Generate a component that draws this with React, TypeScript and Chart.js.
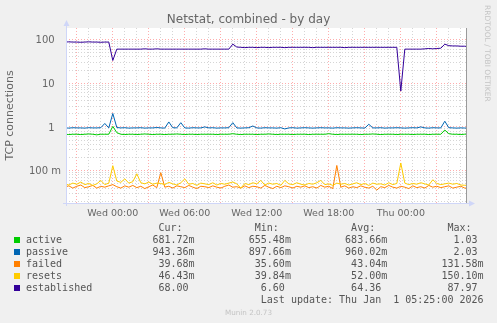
import { useEffect, useRef } from 'react';
import { Chart, registerables } from 'chart.js';
Chart.register(...registerables);

// ---------- data ----------
const TITLE = 'Netstat, combined - by day';
const Y_TITLE = 'TCP connections';
const SERIES_NAMES = ['active', 'passive', 'failed', 'resets', 'established'];
const COLORS = ['#00CC00', '#0066B3', '#FF8000', '#FFCC00', '#330099'];

// sample times in hours relative to Wed 00:00, one sample every 20 minutes
const START_HOUR = -4;
const STEP_HOURS = 1 / 3;

const ACTIVE = [
  0.68, 0.67, 0.68, 0.68, 0.67, 0.68, 0.69, 0.68, 0.66, 0.68, 0.68, 0.68,
  1.03, 0.74, 0.68, 0.67, 0.68, 0.68, 0.67, 0.68, 0.69, 0.68, 0.67, 0.68,
  0.68, 0.67, 0.68, 0.68, 0.69, 0.68, 0.67, 0.68, 0.68, 0.67, 0.68, 0.68,
  0.68, 0.68, 0.67, 0.68, 0.68, 0.68, 0.70, 0.68, 0.67, 0.68, 0.68, 0.68,
  0.67, 0.68, 0.68, 0.69, 0.68, 0.67, 0.68, 0.68, 0.68, 0.67, 0.68, 0.68,
  0.68, 0.67, 0.68, 0.68, 0.68, 0.68, 0.70, 0.68, 0.67, 0.68, 0.68, 0.68,
  0.68, 0.68, 0.67, 0.68, 0.68, 0.69, 0.68, 0.67, 0.68, 0.68, 0.68, 0.67,
  0.68, 0.68, 0.68, 0.67, 0.68, 0.68, 0.68, 0.67, 0.68, 0.68, 0.68, 0.85,
  0.70, 0.68, 0.68, 0.67, 0.682, 0.682,
];
const PASSIVE = [
  0.95, 0.94, 0.96, 0.95, 0.95, 0.94, 0.96, 0.95, 0.95, 0.96, 1.2, 0.95,
  2.03, 0.97, 0.95, 0.96, 0.94, 0.95, 0.95, 0.96, 0.94, 0.95, 0.95, 0.97,
  0.95, 0.94, 1.3, 0.96, 0.95, 1.25, 0.95, 0.94, 0.96, 0.95, 0.95, 1.0,
  0.95, 0.96, 0.94, 0.95, 0.95, 0.96, 1.25, 0.95, 0.94, 0.95, 0.96, 1.05,
  0.95, 0.94, 0.96, 0.95, 0.95, 0.94, 0.96, 0.90, 0.95, 0.96, 0.94, 0.95,
  0.96, 0.95, 0.94, 0.95, 0.96, 0.95, 0.95, 0.94, 0.96, 0.95, 0.95, 0.94,
  0.95, 0.96, 0.95, 0.94, 1.15, 0.95, 0.95, 0.96, 0.94, 0.95, 0.95, 0.96,
  0.95, 0.94, 0.95, 0.96, 0.95, 1.0, 0.95, 0.94, 0.96, 0.95, 0.95, 1.35,
  0.96, 0.95, 0.94, 0.95, 0.943, 0.943,
];
const FAILED = [
  0.042, 0.045, 0.040, 0.044, 0.047, 0.041, 0.043, 0.046, 0.040, 0.044, 0.042, 0.045,
  0.048, 0.043, 0.040, 0.045, 0.042, 0.046, 0.041, 0.044, 0.039, 0.043, 0.047, 0.041,
  0.090, 0.042, 0.044, 0.040, 0.045, 0.043, 0.041, 0.046, 0.042, 0.039, 0.044, 0.043,
  0.041, 0.045, 0.042, 0.040, 0.044, 0.047, 0.042, 0.043, 0.040, 0.045, 0.041, 0.044,
  0.043, 0.040, 0.046, 0.042, 0.039, 0.044, 0.041, 0.045, 0.043, 0.040, 0.044, 0.042,
  0.045, 0.041, 0.043, 0.040, 0.046, 0.042, 0.044, 0.039, 0.1316, 0.042, 0.045, 0.040,
  0.043, 0.041, 0.045, 0.042, 0.040, 0.044, 0.036, 0.043, 0.041, 0.046, 0.042, 0.040,
  0.044, 0.042, 0.039, 0.045, 0.041, 0.043, 0.040, 0.046, 0.042, 0.044, 0.041, 0.043,
  0.045, 0.040, 0.042, 0.044, 0.040, 0.0397,
];
const RESETS = [
  0.050, 0.047, 0.052, 0.049, 0.055, 0.048, 0.051, 0.046, 0.050, 0.060, 0.048, 0.052,
  0.130, 0.058, 0.054, 0.065, 0.052, 0.056, 0.085, 0.053, 0.050, 0.055, 0.049, 0.052,
  0.051, 0.048, 0.054, 0.050, 0.047, 0.053, 0.065, 0.049, 0.051, 0.046, 0.052, 0.050,
  0.048, 0.053, 0.047, 0.051, 0.049, 0.052, 0.055, 0.050, 0.040, 0.051, 0.048, 0.053,
  0.050, 0.060, 0.047, 0.052, 0.049, 0.051, 0.046, 0.060, 0.050, 0.048, 0.053, 0.049,
  0.047, 0.051, 0.049, 0.053, 0.060, 0.048, 0.050, 0.046, 0.052, 0.049, 0.051, 0.047,
  0.050, 0.053, 0.048, 0.051, 0.046, 0.052, 0.049, 0.050, 0.047, 0.053, 0.048, 0.051,
  0.150, 0.052, 0.048, 0.051, 0.049, 0.053, 0.050, 0.047, 0.062, 0.051, 0.048, 0.050,
  0.052, 0.049, 0.051, 0.047, 0.0464, 0.0464,
];
const ESTABLISHED = [
  87, 88, 87, 87, 86, 87, 88, 87, 87, 86, 87, 87,
  33, 60, 60, 60, 60, 60, 60, 60, 61, 60, 60, 61,
  60, 60, 60, 60, 60, 60, 60, 60, 60, 60, 60, 61,
  60, 60, 60, 60, 60, 60, 78, 67, 66, 65, 66, 66,
  65, 66, 66, 65, 66, 66, 66, 65, 66, 66, 66, 66,
  66, 66, 65, 66, 66, 66, 66, 66, 66, 66, 65, 66,
  66, 66, 66, 66, 66, 66, 66, 66, 66, 66, 66, 66,
  6.6, 60, 60, 60, 60, 60, 61, 62, 61, 62, 63, 78,
  72, 71, 71, 70, 70, 68,
];
const SERIES_VALUES = [ACTIVE, PASSIVE, FAILED, RESETS, ESTABLISHED];

// axes
const X_MIN = -3.9;
const X_MAX = 29.4333;
const X_GRID_HOURS = [-3, -2, -1, 0, 1, 2, 3, 4, 5, 6, 7, 8, 9, 10, 11, 12, 13, 14, 15, 16, 17, 18, 19, 20, 21, 22, 23, 24, 25, 26, 27, 28, 29];
const X_LABEL_HOURS = [0, 6, 12, 18, 24];
const X_LABELS = ['Wed 00:00', 'Wed 06:00', 'Wed 12:00', 'Wed 18:00', 'Thu 00:00'];
const Y_MIN = 0.01825;
const Y_MAX = 182.5;
const Y_GRID = [
  0.02, 0.03, 0.04, 0.05, 0.06, 0.07, 0.08, 0.09,
  0.1, 0.2, 0.3, 0.4, 0.5, 0.6, 0.7, 0.8, 0.9,
  1, 2, 3, 4, 5, 6, 7, 8, 9,
  10, 20, 30, 40, 50, 60, 70, 80, 90, 100,
];
const Y_LABEL_VALUES = [100, 10, 1, 0.1];
const Y_LABELS = ['100', '10', '1', '100 m'];

// legend statistics
const CUR = ['681.72m', '943.36m', '39.68m', '46.43m', '68.00 '];
const MIN = ['655.48m', '897.66m', '35.60m', '39.84m', '6.60 '];
const AVG = ['683.66m', '960.02m', '43.04m', '52.00m', '64.36 '];
const MAX = ['1.03 ', '2.03 ', '131.58m', '150.10m', '87.97 '];
const LAST_UPDATE = 'Last update: Thu Jan  1 05:25:00 2026';
const FOOTER = 'Munin 2.0.73';
const WATERMARK = 'RRDTOOL / TOBI OETIKER';

const FONT_COLOR = '#666666';
const LEGEND_COLOR = '#555555';
const AXIS_COLOR = '#CFD6F8';
const MGRID = 'rgba(255,0,0,0.32)';
const GRID = 'rgba(150,150,150,0.4)';

const isDecade = (v: number) => {
  const l = Math.log10(v);
  return Math.abs(l - Math.round(l)) < 1e-6;
};

const muninPlugin = {
  id: 'munin',
  beforeDraw(chart: any) {
    const { ctx, chartArea: a } = chart;
    ctx.save();
    ctx.fillStyle = '#FFFFFF';
    ctx.fillRect(a.left, a.top, a.right - a.left, a.bottom - a.top);
    ctx.restore();
  },
  afterDraw(chart: any) {
    const { ctx, chartArea: a, scales } = chart;
    ctx.save();
    // axes
    ctx.strokeStyle = AXIS_COLOR;
    ctx.lineWidth = 1;
    ctx.beginPath();
    ctx.moveTo(a.left - 3, a.bottom + 0.5);
    ctx.lineTo(a.right + 4, a.bottom + 0.5);
    ctx.moveTo(a.left + 0.5, a.bottom + 3);
    ctx.lineTo(a.left + 0.5, a.top - 4);
    ctx.stroke();
    ctx.fillStyle = AXIS_COLOR;
    ctx.beginPath();
    ctx.moveTo(a.left + 0.5, a.top - 8);
    ctx.lineTo(a.left - 2.5, a.top - 2);
    ctx.lineTo(a.left + 3.5, a.top - 2);
    ctx.closePath();
    ctx.fill();
    ctx.beginPath();
    ctx.moveTo(a.right + 9, a.bottom + 0.5);
    ctx.lineTo(a.right + 3, a.bottom - 2.5);
    ctx.lineTo(a.right + 3, a.bottom + 3.5);
    ctx.closePath();
    ctx.fill();
    // right frame line
    ctx.strokeStyle = '#9A9A9A';
    ctx.beginPath();
    ctx.moveTo(a.right + 0.5, a.top);
    ctx.lineTo(a.right + 0.5, a.bottom);
    ctx.stroke();
    // title
    ctx.fillStyle = FONT_COLOR;
    ctx.font = '12px "DejaVu Sans"';
    ctx.textAlign = 'center';
    ctx.textBaseline = 'alphabetic';
    ctx.fillText(TITLE, 248.5, 22.7);
    // y labels
    ctx.font = '10px "DejaVu Sans"';
    ctx.textAlign = 'right';
    Y_LABEL_VALUES.forEach((v, i) => {
      const y = scales.y.getPixelForValue(v);
      const lbl = Y_LABELS[i];
      ctx.fillText(lbl, lbl.indexOf('m') >= 0 ? 61 : 54.6, y + 3.7);
    });
    // x labels
    ctx.font = '9.5px "DejaVu Sans"';
    ctx.textAlign = 'center';
    X_LABEL_HOURS.forEach((h, i) => {
      ctx.fillText(X_LABELS[i], scales.x.getPixelForValue(h), 215.7);
    });
    // footer
    ctx.fillStyle = '#C4C4C4';
    ctx.font = '7.2px "DejaVu Sans"';
    ctx.fillText(FOOTER, 248.5, 315);
    // watermark
    ctx.translate(486.5, 5);
    ctx.rotate(Math.PI / 2);
    ctx.font = '7.5px "DejaVu Sans"';
    ctx.fillStyle = '#C4C4C4';
    ctx.textAlign = 'left';
    ctx.textBaseline = 'middle';
    ctx.fillText(WATERMARK, 0, 0);
    ctx.restore();
  },
};

export default function App() {
  const ref = useRef<HTMLCanvasElement | null>(null);

  useEffect(() => {
    const canvas = ref.current;
    if (!canvas) return;
    const times = SERIES_VALUES[0].map((_, i) => START_HOUR + i * STEP_HOURS);
    const datasets = SERIES_NAMES.map((name, k) => ({
      label: name,
      data: SERIES_VALUES[k].map((v, i) => ({ x: times[i], y: v })),
      borderColor: COLORS[k],
      backgroundColor: COLORS[k],
      borderWidth: 1,
      pointRadius: 0,
      fill: false,
      tension: 0,
      order: 5 - k,
    }));
    const chart = new Chart(canvas, {
      type: 'line',
      data: { datasets },
      options: {
        animation: false,
        responsive: false,
        devicePixelRatio: 1,
        events: [],
        layout: { padding: { top: 28, right: 31, bottom: 0, left: 0 } },
        plugins: {
          legend: { display: false },
          tooltip: { enabled: false },
          title: { display: false },
        },
        scales: {
          x: {
            type: 'linear',
            min: X_MIN,
            max: X_MAX,
            afterBuildTicks: (s: any) => {
              s.ticks = X_GRID_HOURS.map((v) => ({ value: v }));
            },
            afterFit: (s: any) => {
              s.height = 120;
            },
            ticks: { display: false },
            grid: {
              drawTicks: false,
              lineWidth: 1,
              color: (c: any) => (c.tick && c.tick.value % 3 === 0 ? MGRID : GRID),
            },
            border: { display: false, dash: [1, 2] },
          },
          y: {
            type: 'logarithmic',
            min: Y_MIN,
            max: Y_MAX,
            afterBuildTicks: (s: any) => {
              s.ticks = Y_GRID.map((v) => ({ value: v }));
            },
            afterFit: (s: any) => {
              s.width = 66;
            },
            ticks: { display: false },
            grid: {
              drawTicks: false,
              lineWidth: 1,
              color: (c: any) => (c.tick && isDecade(c.tick.value) ? MGRID : GRID),
            },
            border: { display: false, dash: [1, 2] },
            title: {
              display: true,
              text: Y_TITLE,
              color: FONT_COLOR,
              font: { family: 'DejaVu Sans', size: 11 },
              padding: { top: 4, bottom: 4 },
            },
          },
        },
      } as any,
      plugins: [muninPlugin],
    });
    return () => chart.destroy();
  }, []);

  const header =
    ' '.repeat(22) + 'Cur:' + 'Min:'.padStart(16) + 'Avg:'.padStart(16) + 'Max:'.padStart(16);
  const rows = SERIES_NAMES.map((name, k) => {
    let s = name;
    s += CUR[k].padStart(28 - s.length);
    s += MIN[k].padStart(16);
    s += AVG[k].padStart(16);
    s += MAX[k].padStart(16);
    return s;
  });
  const lines = [header, ...rows, LAST_UPDATE.padStart(76)];

  return (
    <div
      style={{
        position: 'fixed',
        left: 0,
        top: 0,
        width: 497,
        height: 323,
        background: '#F0F0F0',
        overflow: 'hidden',
      }}
    >
      <canvas ref={ref} width={497} height={323} style={{ display: 'block', width: 497, height: 323 }} />
      <div
        style={{
          position: 'absolute',
          left: 26,
          top: 221.5,
          font: '10px "DejaVu Sans Mono"',
          lineHeight: '12px',
          whiteSpace: 'pre',
          color: LEGEND_COLOR,
        }}
      >
        {lines.join('\n')}
      </div>
      {SERIES_NAMES.map((name, k) => (
        <div
          key={name}
          style={{
            position: 'absolute',
            left: 14,
            top: 237 + 12 * k,
            width: 6,
            height: 6,
            background: COLORS[k],
          }}
        />
      ))}
    </div>
  );
}
